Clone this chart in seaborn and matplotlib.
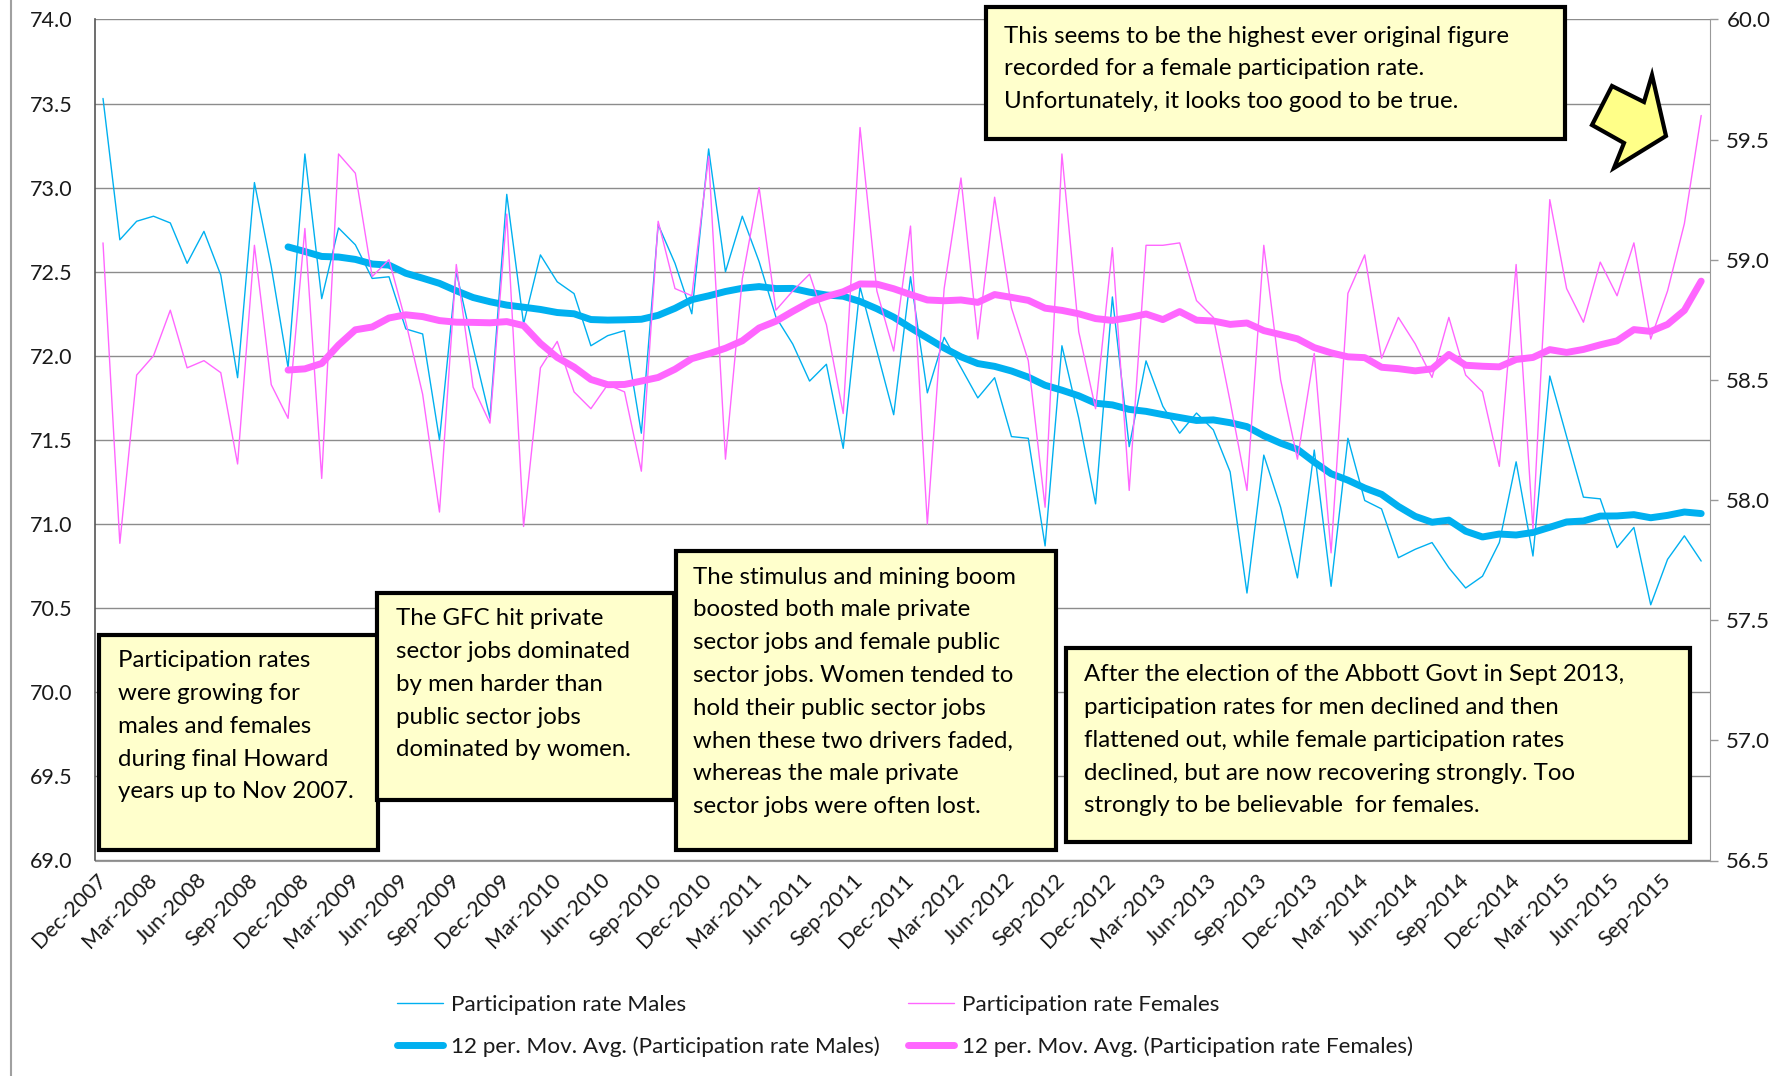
import numpy as np
import pandas as pd
import matplotlib
matplotlib.use("Agg")
import matplotlib.pyplot as plt
from matplotlib.patches import Rectangle, Polygon
from matplotlib.lines import Line2D
import seaborn as sns

# Monthly participation rates, Dec-2007 .. Nov-2015
males = [73.53, 72.69, 72.80, 72.83, 72.79, 72.55, 72.74, 72.48, 71.87, 73.03, 72.53, 71.93,
         73.20, 72.34, 72.76, 72.66, 72.46, 72.47, 72.16, 72.13, 71.50, 72.50, 72.05, 71.63,
         72.96, 72.19, 72.60, 72.44, 72.37, 72.06, 72.12, 72.15, 71.54, 72.78, 72.55, 72.25,
         73.23, 72.50, 72.83, 72.56, 72.23, 72.07, 71.85, 71.95, 71.45, 72.41, 72.03, 71.65,
         72.47, 71.78, 72.11, 71.93, 71.75, 71.87, 71.52, 71.51, 70.87, 72.06, 71.63, 71.12,
         72.35, 71.46, 71.97, 71.70, 71.54, 71.66, 71.56, 71.31, 70.59, 71.41, 71.10, 70.68,
         71.44, 70.63, 71.51, 71.14, 71.09, 70.80, 70.85, 70.89, 70.74, 70.62, 70.69, 70.89,
         71.37, 70.81, 71.88, 71.52, 71.16, 71.15, 70.86, 70.98, 70.52, 70.79, 70.93, 70.78]

females = [59.07, 57.82, 58.52, 58.60, 58.79, 58.55, 58.58, 58.53, 58.15, 59.06, 58.48, 58.34,
           59.13, 58.09, 59.44, 59.36, 58.93, 59.00, 58.74, 58.44, 57.95, 58.98, 58.47, 58.32,
           59.19, 57.89, 58.55, 58.66, 58.45, 58.38, 58.48, 58.45, 58.12, 59.16, 58.88, 58.85,
           59.43, 58.17, 58.92, 59.30, 58.79, 58.87, 58.94, 58.73, 58.36, 59.55, 58.87, 58.62,
           59.14, 57.90, 58.88, 59.34, 58.67, 59.26, 58.80, 58.58, 57.97, 59.44, 58.70, 58.38,
           59.05, 58.04, 59.06, 59.06, 59.07, 58.83, 58.76, 58.41, 58.04, 59.06, 58.50, 58.17,
           58.61, 57.78, 58.86, 59.02, 58.59, 58.76, 58.65, 58.51, 58.76, 58.52, 58.45, 58.14,
           58.98, 57.88, 59.25, 58.88, 58.74, 58.99, 58.85, 59.07, 58.67, 58.87, 59.15, 59.60]

tick_labels = ["Dec-2007", "Mar-2008", "Jun-2008", "Sep-2008", "Dec-2008", "Mar-2009",
               "Jun-2009", "Sep-2009", "Dec-2009", "Mar-2010", "Jun-2010", "Sep-2010",
               "Dec-2010", "Mar-2011", "Jun-2011", "Sep-2011", "Dec-2011", "Mar-2012",
               "Jun-2012", "Sep-2012", "Dec-2012", "Mar-2013", "Jun-2013", "Sep-2013",
               "Dec-2013", "Mar-2014", "Jun-2014", "Sep-2014", "Dec-2014", "Mar-2015",
               "Jun-2015", "Sep-2015"]

left_ticks = [69.0, 69.5, 70.0, 70.5, 71.0, 71.5, 72.0, 72.5, 73.0, 73.5, 74.0]
right_ticks = [56.5, 57.0, 57.5, 58.0, 58.5, 59.0, 59.5, 60.0]

notes = [
    "Participation rates\nwere growing for\nmales and females\nduring final Howard\nyears up to Nov 2007.",
    "The GFC hit private\nsector jobs dominated\nby men harder than\npublic sector jobs\ndominated by women.",
    "The stimulus and mining boom\nboosted both male private\nsector jobs and female public\nsector jobs. Women tended to\n"
    "hold their public sector jobs\nwhen these two drivers faded,\nwhereas the male private\nsector jobs were often lost.",
    "After the election of the Abbott Govt in Sept 2013,\nparticipation rates for men declined and then\n"
    "flattened out, while female participation rates\ndeclined, but are now recovering strongly. Too\n"
    "strongly to be believable  for females.",
    "This seems to be the highest ever original figure\nrecorded for a female participation rate.\n"
    "Unfortunately, it looks too good to be true.",
]

W, H = 1787, 1076


def fx(px):
    return px / W


def fy(py):
    return 1 - py / H


sns.set_style("white")
plt.rcParams['font.family'] = ['Lato', 'DejaVu Sans']

df = pd.DataFrame({'t': np.arange(len(males)), 'Males': males, 'Females': females})
df['MA Males'] = df['Males'].rolling(12).mean()
df['MA Females'] = df['Females'].rolling(12).mean()
ma = df.dropna()

blue = '#00B0F0'
pink = '#FF66FF'
txt = '#1a1a1a'

fig = plt.figure(figsize=(W / 100, H / 100), dpi=100)
ax = fig.add_axes([fx(94.6), fy(860.5), fx(1709.6) - fx(94.6), fy(19.4) - fy(860.5)])
ax2 = ax.twinx()

sns.lineplot(data=df, x='t', y='Males', ax=ax, color=blue, linewidth=1.0, estimator=None)
sns.lineplot(data=ma, x='t', y='MA Males', ax=ax, color=blue, linewidth=5,
             solid_capstyle='round', estimator=None)
sns.lineplot(data=df, x='t', y='Females', ax=ax2, color=pink, linewidth=1.0, estimator=None)
sns.lineplot(data=ma, x='t', y='MA Females', ax=ax2, color=pink, linewidth=5,
             solid_capstyle='round', estimator=None)

# axes
ax.set_xlim(-0.5, len(males) - 0.5)
ax.set_ylim(69, 74)
ax2.set_ylim(56.5, 60)
for a in (ax, ax2):
    a.set_xlabel('')
    a.set_ylabel('')
    a.spines['top'].set_visible(False)

ax.set_yticks(left_ticks)
ax.set_yticklabels([f'{v:.1f}' for v in left_ticks])
ax.tick_params(axis='y', length=0, pad=16, labelsize=15.5, labelcolor=txt)
ax.yaxis.grid(True, color='#8c8c8c', linewidth=1.0)

ax2.set_yticks(right_ticks)
ax2.set_yticklabels([f'{v:.1f}' for v in right_ticks])
ax2.tick_params(axis='y', length=6, width=1, color='#999999', pad=6, labelsize=16,
                labelcolor=txt)

ax.set_xticks(np.arange(0, len(males), 3))
ax.set_xticklabels(tick_labels, rotation=45, ha='right', va='center',
                   rotation_mode='anchor', fontsize=15.5, color=txt)
ax.set_xticks(np.arange(-0.5, len(males), 3), minor=True)
ax.tick_params(axis='x', which='major', length=0, pad=12)
ax.tick_params(axis='x', which='minor', direction='in', length=6, width=1, color='#999999')

ax.spines['left'].set_color('#555555')
ax.spines['left'].set_linewidth(1.2)
ax.spines['bottom'].set_color('#999999')
ax.spines['right'].set_visible(False)
ax2.spines['left'].set_visible(False)
ax2.spines['bottom'].set_visible(False)
ax2.spines['right'].set_color('#999999')

# outer chart border on the left
fig.add_artist(Line2D([fx(11), fx(11)], [0, 1], color='#a0a0a0', linewidth=1.5))

# legend, two columns
hm = Line2D([], [], color=blue, linewidth=1.0)
hmm = Line2D([], [], color=blue, linewidth=5, solid_capstyle='round')
hf = Line2D([], [], color=pink, linewidth=1.0)
hfm = Line2D([], [], color=pink, linewidth=5, solid_capstyle='round')
leg_kw = dict(loc='center left', frameon=False, fontsize=16.2, handlelength=2.03,
              handletextpad=0.35, labelspacing=0.98, borderpad=0, borderaxespad=0,
              labelcolor=txt)
fig.legend([hm, hmm], ['Participation rate Males', '12 per. Mov. Avg. (Participation rate Males)'],
           bbox_to_anchor=(fx(397), fy(1026)), **leg_kw)
fig.legend([hf, hfm], ['Participation rate Females', '12 per. Mov. Avg. (Participation rate Females)'],
           bbox_to_anchor=(fx(908), fy(1026)), **leg_kw)

# annotation boxes: (x0, y0, x1, y1, text x, first baseline) in pixels
pitch = 32.6
boxes = [(99, 635, 378, 850, 118, 668),
         (377, 593, 674, 800, 396, 626),
         (676, 551, 1056, 850, 693, 585),
         (1066, 648, 1690, 842, 1084, 682),
         (986, 7, 1565, 139, 1004, 43)]
for (x0, y0, x1, y1, tx, ty), note in zip(boxes, notes):
    fig.add_artist(Rectangle((fx(x0), fy(y1)), fx(x1) - fx(x0), fy(y0) - fy(y1),
                             transform=fig.transFigure, facecolor='#FFFFCC',
                             edgecolor='black', linewidth=3, zorder=10))
    # va='baseline' pins the last line, so shift down by the number of lines
    last = ty + pitch * (note.count('\n'))
    fig.text(fx(tx), fy(last), note, ha='left', va='baseline', fontsize=17.3,
             linespacing=1.694, color='black', zorder=11)

# jagged pointer arrow
arrow_px = [(1612, 86), (1644, 102), (1652, 75), (1666, 136), (1614, 168), (1624, 143), (1592, 125)]
fig.add_artist(Polygon([(fx(x), fy(y)) for x, y in arrow_px], closed=True,
                       transform=fig.transFigure, facecolor='#FFFF88', edgecolor='black',
                       linewidth=3, joinstyle='miter', zorder=10))

fig.savefig('out.png', dpi=100)
